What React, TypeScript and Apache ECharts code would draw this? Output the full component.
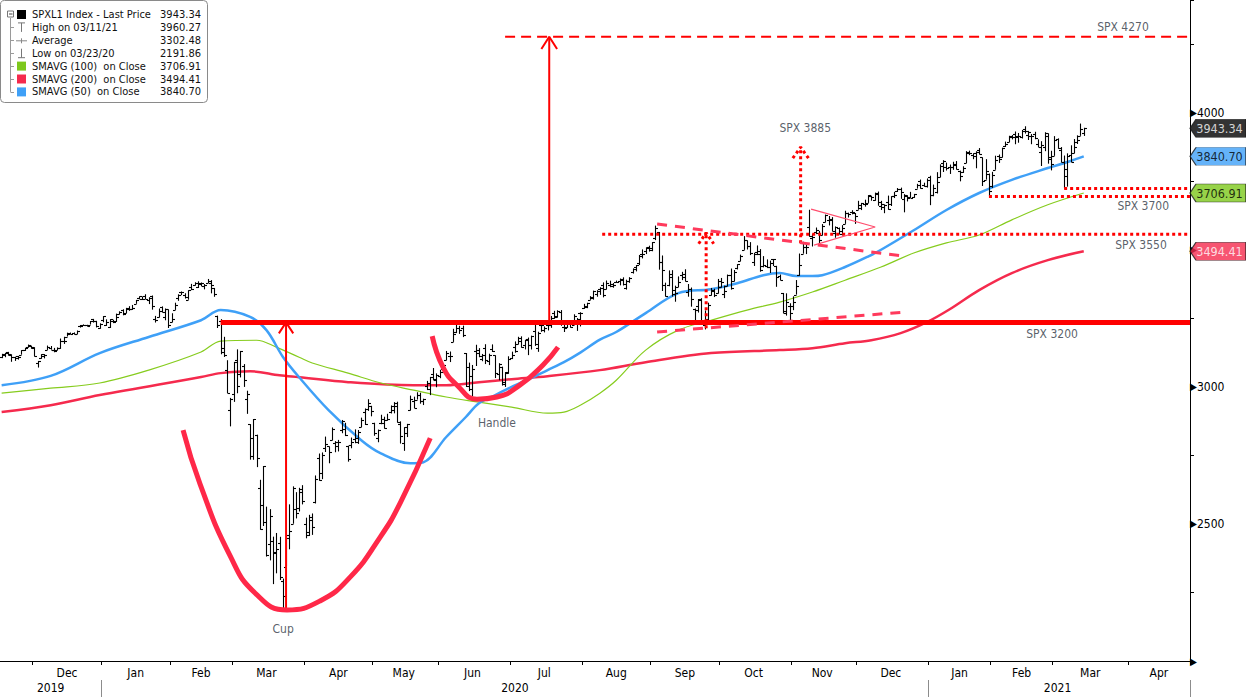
import React, { useEffect, useRef } from 'react';
import * as echarts from 'echarts';

const FONT = '"DejaVu Sans Condensed", "DejaVu Sans", sans-serif';
const MONTHS = ['Jan', 'Feb', 'Mar', 'Apr', 'May', 'Jun', 'Jul', 'Aug', 'Sep', 'Oct', 'Nov', 'Dec'];

// Calendar of the axis: trading days from the first bar, including empty future days
const FIRST_DAY = '2019-11-15';
const AXIS_DAYS = 364;
const HOLIDAYS = [
  '2019-11-28', '2019-12-25', '2020-01-01', '2020-01-20', '2020-02-17', '2020-04-10', '2020-05-25',
  '2020-07-03', '2020-09-07', '2020-11-26', '2020-12-25', '2021-01-01', '2021-01-18', '2021-02-15', '2021-04-02',
];

// Daily bars [open, high, low, close]
const nov2019 = [
  [3107.9, 3120.5, 3104.6, 3120.5], [3117.9, 3124.2, 3108.1, 3122.0], [3127.5, 3127.6, 3113.5, 3120.2],
  [3114.7, 3118.9, 3091.4, 3108.5], [3108.5, 3110.1, 3094.6, 3103.5], [3111.4, 3112.9, 3099.3, 3110.3],
  [3117.4, 3133.8, 3117.4, 3133.6], [3134.9, 3142.7, 3131.0, 3140.5], [3145.5, 3154.3, 3143.4, 3153.6],
  [3147.2, 3150.3, 3139.3, 3141.0],
];
const dec2019 = [
  [3143.9, 3144.3, 3110.8, 3113.9], [3087.4, 3094.6, 3070.3, 3093.2], [3103.5, 3119.4, 3102.5, 3112.8],
  [3119.2, 3119.4, 3103.8, 3117.4], [3134.6, 3150.6, 3134.6, 3145.9], [3141.9, 3148.9, 3135.5, 3136.0],
  [3135.4, 3142.1, 3126.1, 3132.5], [3135.8, 3144.0, 3133.2, 3141.6], [3141.2, 3176.3, 3138.5, 3168.6],
  [3166.7, 3182.7, 3156.5, 3168.8], [3183.6, 3197.7, 3183.6, 3191.5], [3195.4, 3198.2, 3191.0, 3192.5],
  [3195.2, 3198.5, 3191.1, 3191.1], [3192.3, 3205.5, 3192.3, 3205.4], [3223.3, 3225.7, 3216.0, 3221.2],
  [3226.1, 3227.8, 3222.3, 3224.0], [3225.5, 3226.4, 3220.5, 3223.4], [3227.2, 3240.1, 3227.2, 3239.9],
  [3247.2, 3247.9, 3234.4, 3240.0], [3240.1, 3240.9, 3216.6, 3221.3], [3215.2, 3231.7, 3212.0, 3230.8],
];
const jan2020 = [
  [3244.7, 3258.1, 3235.5, 3257.9], [3226.4, 3246.2, 3222.3, 3234.9], [3217.6, 3246.8, 3214.6, 3246.3],
  [3241.9, 3244.9, 3232.4, 3237.2], [3238.6, 3267.1, 3236.7, 3253.1], [3266.0, 3275.6, 3263.7, 3274.7],
  [3281.0, 3283.0, 3260.9, 3265.4], [3271.1, 3288.1, 3268.4, 3288.1], [3285.4, 3294.2, 3277.2, 3283.2],
  [3282.3, 3298.7, 3280.7, 3289.3], [3303.0, 3317.1, 3302.8, 3316.8], [3323.7, 3329.9, 3318.9, 3329.6],
  [3321.0, 3329.8, 3316.6, 3320.8], [3330.0, 3337.8, 3320.0, 3321.8], [3315.8, 3326.9, 3301.9, 3325.5],
  [3333.1, 3333.2, 3281.5, 3295.5], [3247.2, 3258.8, 3234.5, 3243.6], [3255.4, 3285.8, 3253.2, 3276.2],
  [3289.5, 3293.5, 3271.9, 3273.4], [3256.5, 3285.9, 3242.8, 3283.7], [3282.3, 3282.3, 3214.7, 3225.5],
];
const feb2020 = [
  [3235.7, 3268.4, 3235.7, 3248.9], [3280.6, 3306.9, 3280.6, 3297.6], [3324.9, 3337.6, 3313.8, 3334.7],
  [3344.9, 3348.0, 3334.4, 3345.8], [3335.5, 3341.4, 3322.1, 3327.7], [3318.3, 3352.3, 3317.8, 3352.1],
  [3365.9, 3375.6, 3352.7, 3357.8], [3370.5, 3381.5, 3369.7, 3379.5], [3365.9, 3385.1, 3360.5, 3373.9],
  [3378.1, 3380.7, 3366.2, 3380.2], [3369.0, 3375.0, 3355.6, 3370.3], [3380.4, 3393.5, 3378.8, 3386.2],
  [3380.5, 3389.2, 3341.0, 3373.2], [3360.5, 3360.8, 3328.5, 3337.8], [3257.6, 3259.8, 3214.7, 3225.9],
  [3238.9, 3247.0, 3118.8, 3128.2], [3139.9, 3182.5, 3109.0, 3116.4], [3062.5, 3097.1, 2977.4, 2978.8],
  [2916.9, 2959.7, 2855.8, 2954.2],
];
const mar2020 = [
  [2974.3, 3091.0, 2945.2, 3090.2], [3096.5, 3136.7, 2976.6, 3003.4], [3045.8, 3131.0, 3034.4, 3130.1],
  [3075.7, 3083.0, 2999.8, 3023.9], [2954.2, 2985.9, 2901.5, 2972.4], [2863.9, 2863.9, 2734.4, 2746.6],
  [2813.5, 2882.6, 2734.0, 2882.2], [2825.6, 2825.6, 2707.2, 2741.4], [2630.9, 2661.0, 2478.9, 2480.6],
  [2570.0, 2711.3, 2492.4, 2711.0], [2508.6, 2563.0, 2380.9, 2386.1], [2425.7, 2553.9, 2367.0, 2529.2],
  [2436.5, 2453.6, 2280.5, 2398.1], [2393.5, 2467.0, 2319.8, 2409.4], [2431.9, 2453.0, 2295.6, 2304.9],
  [2290.7, 2300.7, 2191.9, 2237.4], [2344.4, 2449.7, 2344.4, 2447.3], [2457.8, 2571.4, 2407.5, 2475.6],
  [2501.3, 2637.0, 2500.7, 2630.1], [2555.9, 2615.9, 2520.0, 2541.5], [2559.0, 2631.8, 2545.3, 2626.7],
  [2614.7, 2641.4, 2571.2, 2584.6],
];
const apr2020 = [
  [2498.1, 2522.8, 2447.5, 2470.5], [2458.5, 2533.2, 2455.8, 2526.9], [2514.9, 2538.2, 2460.0, 2488.7],
  [2578.3, 2676.9, 2574.6, 2663.7], [2738.7, 2756.9, 2657.7, 2659.4], [2685.0, 2760.8, 2663.3, 2750.0],
  [2777.0, 2818.6, 2762.4, 2789.8], [2782.5, 2782.5, 2721.2, 2761.6], [2805.1, 2851.9, 2805.1, 2846.1],
  [2795.6, 2801.9, 2761.5, 2783.4], [2799.3, 2806.5, 2764.3, 2799.6], [2842.4, 2879.2, 2830.9, 2874.6],
  [2845.6, 2869.0, 2820.4, 2823.2], [2784.8, 2785.5, 2727.1, 2736.6], [2787.9, 2815.1, 2776.0, 2799.3],
  [2810.4, 2844.9, 2794.3, 2797.8], [2812.6, 2842.7, 2791.8, 2836.7], [2854.7, 2887.7, 2852.9, 2878.5],
  [2910.0, 2921.2, 2860.7, 2863.4], [2918.5, 2954.9, 2912.2, 2939.5], [2930.9, 2930.9, 2892.5, 2912.4],
];
const may2020 = [
  [2869.1, 2869.1, 2821.6, 2830.7], [2815.0, 2844.2, 2797.9, 2842.7], [2868.9, 2898.2, 2863.6, 2868.4],
  [2883.1, 2891.1, 2847.7, 2848.4], [2878.3, 2901.9, 2876.5, 2881.2], [2908.8, 2932.2, 2902.9, 2929.8],
  [2915.5, 2944.3, 2903.4, 2930.3], [2939.5, 2945.8, 2869.6, 2870.1], [2865.9, 2874.1, 2793.2, 2820.0],
  [2794.5, 2852.8, 2766.6, 2852.5], [2830.0, 2865.0, 2816.8, 2863.7], [2913.9, 2968.1, 2913.9, 2953.9],
  [2948.6, 2964.2, 2922.4, 2922.9], [2953.6, 2980.3, 2953.6, 2971.6], [2970.0, 2978.5, 2938.6, 2949.5],
  [2948.1, 2956.8, 2933.6, 2955.5], [3004.1, 3021.7, 2988.2, 2991.8], [3015.7, 3036.3, 2969.8, 3036.1],
  [3046.6, 3068.7, 3023.4, 3029.7], [3025.2, 3049.2, 2998.6, 3044.3],
];
const jun2020 = [
  [3038.8, 3062.2, 3031.5, 3055.7], [3064.2, 3081.1, 3051.6, 3080.8], [3098.9, 3130.9, 3097.1, 3122.9],
  [3111.6, 3128.9, 3090.4, 3112.4], [3163.8, 3211.7, 3163.8, 3193.9], [3199.9, 3233.1, 3196.0, 3232.4],
  [3213.3, 3222.7, 3193.1, 3207.2], [3213.4, 3223.3, 3181.5, 3190.1], [3123.5, 3123.5, 2999.5, 3002.1],
  [3071.0, 3088.4, 2984.5, 3041.3], [2993.8, 3079.8, 2965.7, 3066.6], [3131.0, 3153.5, 3076.1, 3124.7],
  [3136.1, 3141.2, 3108.0, 3113.5], [3101.6, 3120.0, 3093.5, 3115.3], [3140.3, 3155.5, 3083.1, 3097.7],
  [3094.4, 3120.9, 3079.4, 3117.9], [3138.7, 3154.9, 3127.1, 3131.3], [3114.4, 3115.0, 3032.1, 3050.3],
  [3046.6, 3086.3, 3024.0, 3083.8], [3073.2, 3073.7, 3004.6, 3009.1], [3018.6, 3053.9, 2999.7, 3053.2],
  [3050.2, 3111.5, 3047.8, 3100.3],
];
const jul2020 = [
  [3105.9, 3128.4, 3101.2, 3115.9], [3143.6, 3165.8, 3124.5, 3130.0], [3155.3, 3182.6, 3155.3, 3179.7],
  [3166.4, 3184.2, 3142.9, 3145.3], [3153.1, 3171.8, 3136.5, 3169.9], [3176.2, 3179.8, 3115.7, 3152.1],
  [3152.5, 3186.8, 3136.2, 3185.0], [3205.1, 3235.3, 3149.4, 3155.2], [3141.1, 3201.0, 3127.7, 3197.5],
  [3226.0, 3238.3, 3200.8, 3226.6], [3208.4, 3220.4, 3198.6, 3215.6], [3224.2, 3233.5, 3205.7, 3224.7],
  [3224.3, 3258.6, 3215.2, 3251.8], [3268.5, 3277.3, 3247.8, 3257.3], [3254.9, 3279.3, 3253.1, 3276.0],
  [3271.6, 3280.0, 3222.7, 3235.7], [3218.6, 3227.3, 3200.0, 3215.6], [3219.8, 3241.4, 3214.3, 3239.4],
  [3234.3, 3243.7, 3216.2, 3218.4], [3227.2, 3264.7, 3227.2, 3258.4], [3231.8, 3250.9, 3204.1, 3246.2],
  [3270.5, 3272.2, 3220.3, 3271.1],
];
const aug2020 = [
  [3288.3, 3302.7, 3284.5, 3294.6], [3289.9, 3306.8, 3286.9, 3306.5], [3317.4, 3330.8, 3317.4, 3327.8],
  [3323.2, 3351.0, 3318.1, 3349.2], [3340.1, 3352.5, 3328.7, 3351.3], [3356.0, 3363.3, 3335.4, 3360.5],
  [3370.3, 3381.0, 3326.4, 3333.7], [3355.5, 3387.9, 3355.5, 3380.4], [3373.0, 3387.2, 3363.4, 3373.4],
  [3368.7, 3378.5, 3361.6, 3372.9], [3380.9, 3387.6, 3379.2, 3382.0], [3387.0, 3395.1, 3370.2, 3389.8],
  [3392.5, 3399.5, 3369.7, 3374.9], [3360.5, 3390.8, 3354.7, 3385.5], [3386.0, 3400.0, 3379.3, 3397.2],
  [3418.1, 3432.1, 3413.1, 3431.3], [3436.0, 3444.2, 3421.1, 3443.6], [3450.0, 3481.1, 3444.2, 3478.7],
  [3485.1, 3501.4, 3468.4, 3484.6], [3494.7, 3509.2, 3484.3, 3508.0], [3509.7, 3514.8, 3493.3, 3500.3],
];
const sep2020 = [
  [3507.4, 3528.0, 3494.6, 3526.7], [3543.8, 3588.1, 3535.2, 3580.8], [3564.7, 3564.9, 3427.4, 3455.1],
  [3453.6, 3479.2, 3349.6, 3427.0], [3371.9, 3380.0, 3329.3, 3331.8], [3369.8, 3424.8, 3366.8, 3399.0],
  [3412.6, 3425.6, 3329.3, 3339.2], [3352.7, 3369.0, 3310.5, 3341.0], [3363.6, 3402.9, 3363.6, 3383.5],
  [3407.7, 3419.5, 3389.3, 3401.2], [3411.2, 3428.9, 3384.5, 3385.5], [3346.9, 3375.2, 3328.8, 3357.0],
  [3357.4, 3362.3, 3292.4, 3319.5], [3285.6, 3285.6, 3229.1, 3281.1], [3295.8, 3320.3, 3271.0, 3315.6],
  [3320.1, 3323.4, 3232.6, 3236.9], [3226.1, 3278.7, 3209.5, 3246.6], [3236.7, 3306.9, 3228.4, 3298.5],
  [3333.9, 3360.7, 3332.9, 3351.6], [3350.9, 3357.9, 3327.5, 3335.5], [3341.2, 3393.6, 3340.5, 3363.0],
];
const oct2020 = [
  [3385.9, 3397.2, 3361.4, 3380.8], [3338.9, 3369.1, 3323.7, 3348.4], [3367.3, 3409.6, 3367.3, 3408.6],
  [3408.7, 3431.6, 3354.5, 3361.0], [3384.6, 3426.3, 3384.6, 3419.4], [3434.3, 3447.3, 3428.2, 3446.8],
  [3459.7, 3482.3, 3458.1, 3477.1], [3500.0, 3549.9, 3499.6, 3534.2], [3534.0, 3534.0, 3500.9, 3511.9],
  [3515.5, 3527.9, 3480.6, 3488.7], [3453.7, 3489.1, 3440.9, 3483.3], [3493.5, 3515.8, 3480.5, 3483.8],
  [3493.7, 3502.4, 3419.9, 3426.9], [3439.4, 3476.9, 3435.7, 3443.1], [3439.9, 3464.9, 3433.1, 3435.6],
  [3438.5, 3460.5, 3415.3, 3453.5], [3464.9, 3466.5, 3440.5, 3465.4], [3441.4, 3441.4, 3364.9, 3401.0],
  [3403.2, 3409.5, 3388.7, 3390.7], [3342.5, 3342.5, 3268.9, 3271.0], [3277.2, 3341.1, 3259.8, 3310.1],
  [3293.6, 3304.9, 3233.9, 3270.0],
];
const nov2020 = [
  [3296.2, 3330.1, 3279.7, 3310.2], [3336.3, 3389.5, 3336.3, 3369.2], [3406.5, 3486.3, 3405.2, 3443.4],
  [3485.7, 3529.1, 3485.7, 3510.5], [3508.3, 3521.6, 3484.3, 3509.4], [3583.0, 3646.0, 3547.5, 3550.5],
  [3543.3, 3557.2, 3511.9, 3545.5], [3563.2, 3581.2, 3557.0, 3572.7], [3562.7, 3569.0, 3518.6, 3537.0],
  [3552.6, 3593.7, 3552.6, 3585.2], [3600.2, 3628.5, 3600.2, 3626.9], [3610.3, 3623.1, 3588.7, 3609.5],
  [3612.1, 3619.1, 3567.3, 3567.8], [3559.4, 3585.2, 3543.8, 3581.9], [3579.3, 3581.2, 3556.9, 3557.5],
  [3566.8, 3589.8, 3552.8, 3577.6], [3594.5, 3642.3, 3594.5, 3635.4], [3635.5, 3635.5, 3617.8, 3629.7],
  [3638.6, 3644.3, 3629.3, 3638.4], [3634.2, 3634.2, 3594.4, 3621.6],
];
const dec2020 = [
  [3645.9, 3678.5, 3645.9, 3662.5], [3653.8, 3671.0, 3644.8, 3669.0], [3668.3, 3682.7, 3657.2, 3666.7],
  [3670.9, 3699.2, 3670.9, 3699.1], [3694.7, 3697.4, 3678.9, 3692.0], [3683.1, 3708.5, 3678.8, 3702.3],
  [3706.0, 3712.4, 3660.5, 3672.8], [3659.1, 3678.5, 3645.2, 3668.1], [3656.1, 3665.9, 3633.4, 3663.5],
  [3675.3, 3697.6, 3645.8, 3647.5], [3666.4, 3695.3, 3659.6, 3694.6], [3696.3, 3711.3, 3688.6, 3701.2],
  [3713.7, 3725.1, 3710.9, 3722.5], [3722.4, 3726.7, 3685.8, 3709.4], [3684.3, 3702.9, 3636.5, 3694.9],
  [3698.1, 3698.3, 3676.2, 3687.3], [3693.4, 3711.2, 3689.3, 3690.0], [3694.0, 3703.8, 3689.3, 3703.1],
  [3723.0, 3740.5, 3723.0, 3735.4], [3750.0, 3756.1, 3723.3, 3727.0], [3736.2, 3744.6, 3730.2, 3732.0],
  [3733.3, 3760.2, 3726.9, 3756.1],
];
const jan2021 = [
  [3764.6, 3770.0, 3662.7, 3700.7], [3698.0, 3737.8, 3695.1, 3726.9], [3712.2, 3783.0, 3705.3, 3748.1],
  [3764.7, 3811.6, 3764.7, 3803.8], [3815.1, 3826.7, 3783.6, 3824.7], [3803.1, 3817.9, 3789.0, 3799.6],
  [3801.6, 3810.8, 3776.5, 3801.2], [3802.2, 3821.0, 3791.5, 3809.8], [3814.0, 3823.6, 3792.9, 3795.5],
  [3788.7, 3788.7, 3749.6, 3768.3], [3781.9, 3804.5, 3780.4, 3798.9], [3816.2, 3859.8, 3816.2, 3851.9],
  [3857.5, 3861.5, 3845.1, 3853.1], [3844.2, 3852.3, 3830.4, 3841.5], [3851.7, 3859.2, 3797.2, 3855.4],
  [3863.0, 3870.9, 3847.8, 3849.6], [3836.8, 3836.8, 3732.5, 3750.8], [3755.8, 3830.5, 3755.8, 3787.4],
  [3778.1, 3778.1, 3694.1, 3714.2],
];
const feb2021 = [
  [3731.2, 3784.3, 3725.6, 3773.9], [3791.8, 3843.1, 3791.8, 3826.3], [3840.3, 3847.5, 3816.7, 3830.2],
  [3836.7, 3872.4, 3836.7, 3871.7], [3878.3, 3894.6, 3874.9, 3886.8], [3892.6, 3915.8, 3892.6, 3915.6],
  [3910.5, 3918.4, 3902.6, 3911.2], [3920.8, 3931.5, 3884.9, 3909.9], [3916.4, 3926.0, 3890.4, 3916.4],
  [3911.7, 3937.2, 3905.8, 3934.8], [3939.6, 3950.4, 3923.9, 3932.6], [3918.5, 3933.6, 3900.4, 3931.3],
  [3915.9, 3922.0, 3885.0, 3914.0], [3921.2, 3930.4, 3903.1, 3906.7], [3885.6, 3902.9, 3874.7, 3876.5],
  [3857.1, 3896.0, 3805.6, 3881.4], [3873.7, 3928.7, 3859.6, 3925.4], [3915.8, 3925.0, 3814.0, 3829.3],
  [3839.7, 3861.1, 3789.5, 3811.2],
];
const mar2021 = [
  [3842.5, 3914.5, 3842.5, 3901.8], [3903.6, 3906.4, 3868.6, 3870.3], [3864.0, 3874.5, 3818.9, 3819.7],
  [3818.5, 3843.7, 3723.3, 3768.5], [3793.6, 3851.7, 3730.2, 3841.9], [3844.4, 3881.1, 3819.3, 3821.4],
  [3851.9, 3903.8, 3851.9, 3875.4], [3892.0, 3917.4, 3885.7, 3898.8], [3915.5, 3960.3, 3915.5, 3939.3],
  [3924.5, 3945.0, 3915.2, 3943.34],
];

// Moving averages: [trading-day index, value]
const sma50 = [
  [0, 3006], [15, 3040], [30, 3123], [45, 3182], [61, 3243], [67, 3280], [76, 3255], [81, 3207], [86, 3110],
  [91, 3035], [100, 2915], [110, 2805], [116, 2757], [125, 2721], [129, 2725], [136, 2817], [142, 2890],
  [146, 2940], [151, 2970], [156, 3000], [162, 3032], [167, 3061], [172, 3090], [177, 3125], [183, 3172],
  [188, 3200], [197, 3269], [207, 3342], [217, 3356], [225, 3378], [233, 3407], [238, 3415], [243, 3404],
  [248, 3404], [251, 3407], [258, 3437], [265, 3475], [269, 3500], [279, 3571], [289, 3645], [299, 3707],
  [309, 3755], [320, 3798], [326, 3820], [331, 3840.7],
];
const sma100 = [
  [0, 2977], [15, 2995], [30, 3014], [45, 3061], [61, 3127], [67, 3167], [78, 3170], [84, 3145], [91, 3108],
  [95, 3087], [106, 3050], [116, 3014], [126, 2988], [136, 2963], [146, 2944], [156, 2926], [167, 2904],
  [172, 2908], [177, 2933], [183, 2977], [188, 3024], [197, 3134], [207, 3207], [217, 3243], [228, 3280],
  [238, 3309], [248, 3346], [258, 3389], [269, 3437], [279, 3488], [289, 3525], [299, 3554], [309, 3609],
  [320, 3664], [331, 3706.9],
];
const sma200 = [
  [0, 2908], [15, 2933], [30, 2970], [61, 3036], [67, 3050], [76, 3057], [85, 3042], [91, 3035], [106, 3017],
  [126, 3006], [136, 3006], [146, 3017], [156, 3028], [167, 3039], [183, 3061], [197, 3090], [217, 3123],
  [238, 3134], [248, 3141], [258, 3159], [266, 3170], [275, 3196], [283, 3236], [290, 3283], [299, 3353],
  [309, 3415], [320, 3462], [331, 3494.4],
];

// Annotation levels and pattern outlines (trading-day index, value)
const breakout = [[67, 3235], [363.5, 3235]];
const target = [[154, 4277], [363.5, 4277]];
const level3550 = [[183.7, 3557], [363.5, 3557]];
const level3700a = [[302, 3694], [363.5, 3694]];
const level3700b = [[325, 3723], [363.5, 3723]];
const targetArrow = [[167.5, 3235], [167.5, 4277]];
const targetHead = [[165.1, 4232], [167.5, 4277], [169.9, 4232]];
const cupArrow = [[87, 2190], [87, 3235]];
const cupHead = [[84.8, 3195], [87, 3235], [89.2, 3195]];
const dotArrow1 = [[215.5, 3214], [215.5, 3562]];
const dotHead1 = [[213.2, 3522], [215.5, 3562], [217.8, 3522]];
const dotArrow2 = [[244.4, 3524], [244.4, 3874]];
const dotHead2 = [[242.0, 3834], [244.4, 3874], [246.8, 3834]];
const upperTrend = [[200.5, 3594], [275.7, 3477]];
const lowerTrend = [[200.5, 3200], [276.4, 3273]];
const pennant = [[247.6, 3648], [267.2, 3583], [248.5, 3517]];
const cup = [
  [55.5, 2842], [60.7, 2645], [69.9, 2383], [77.5, 2248], [87.3, 2186], [97.4, 2219], [106.6, 2306],
  [115.8, 2452], [121.9, 2576], [131.1, 2813],
];
const handle = [
  [131.7, 3185], [135.0, 3072], [139.3, 3006], [145.4, 2955], [151.5, 2963], [158.6, 3007], [165.6, 3080],
  [170.2, 3145],
];
const noteLabels = [
  { name: 'SPX 4270', value: [343, 4313] },
  { name: 'SPX 3700', value: [349.2, 3660] },
  { name: 'SPX 3550', value: [348.5, 3517] },
  { name: 'SPX 3200', value: [321.3, 3193] },
  { name: 'SPX 3885', value: [245.8, 3944] },
  { name: 'Cup', value: [86.1, 2116] },
  { name: 'Handle', value: [151.5, 2868] },
];

const legendRows = [
  { label: 'SPXL1 Index - Last Price', value: '3943.34', icon: 'box', color: '#000000' },
  { label: 'High on 03/11/21', value: '3960.27', icon: 'high' },
  { label: 'Average', value: '3302.48', icon: 'avg' },
  { label: 'Low on 03/23/20', value: '2191.86', icon: 'low' },
  { label: 'SMAVG (100)  on Close', value: '3706.91', icon: 'box', color: '#7dc81c' },
  { label: 'SMAVG (200)  on Close', value: '3494.41', icon: 'box', color: '#f52a4d' },
  { label: 'SMAVG (50)  on Close', value: '3840.70', icon: 'box', color: '#3fa0f7' },
];
const priceTags = [
  { value: 3943.34, text: '3943.34', bg: '#000000', fg: '#ffffff' },
  { value: 3840.7, text: '3840.70', bg: '#3fa0f7', fg: '#000000' },
  { value: 3706.91, text: '3706.91', bg: '#7dc81c', fg: '#000000' },
  { value: 3494.41, text: '3494.41', bg: '#f52a4d', fg: '#ffffff' },
];
const yLabelValues = [2500, 3000, 4000];

function tradingDays(start: string, count: number, holidays: string[]) {
  const out: string[] = [];
  const d = new Date(start + 'T12:00:00Z');
  while (out.length < count) {
    const wd = d.getUTCDay();
    const s = d.toISOString().slice(0, 10);
    if (wd !== 0 && wd !== 6 && holidays.indexOf(s) < 0) out.push(s);
    d.setUTCDate(d.getUTCDate() + 1);
  }
  return out;
}

function groupBy(dates: string[], len: number) {
  const groups: Record<string, number[]> = {};
  const order: string[] = [];
  dates.forEach((d, i) => {
    const k = d.slice(0, len);
    if (!groups[k]) { groups[k] = []; order.push(k); }
    groups[k].push(i);
  });
  return order.map((k) => groups[k]);
}

function buildLegend() {
  const els: any[] = [];
  const rowY = (i: number) => 14.5 + i * 12.9;
  els.push({ type: 'rect', shape: { x: 0.5, y: 0.5, width: 207, height: 102, r: 4 }, style: { fill: '#fff', stroke: '#8a8a8a', lineWidth: 1 } });
  els.push({ type: 'line', shape: { x1: 10.5, y1: 18, x2: 10.5, y2: rowY(6) }, style: { stroke: '#9a9a9a', lineWidth: 1 } });
  els.push({ type: 'rect', shape: { x: 7.5, y: rowY(0) - 3.5, width: 6, height: 6 }, style: { fill: '#fff', stroke: '#777', lineWidth: 1 } });
  els.push({ type: 'line', shape: { x1: 9, y1: rowY(0) - 0.5, x2: 12.5, y2: rowY(0) - 0.5 }, style: { stroke: '#444', lineWidth: 1 } });
  legendRows.forEach((r, i) => {
    const y = rowY(i);
    if (i > 0) els.push({ type: 'line', shape: { x1: 10.5, y1: Math.round(y) + 0.5, x2: 14, y2: Math.round(y) + 0.5 }, style: { stroke: '#9a9a9a', lineWidth: 1 } });
    if (r.icon === 'box') {
      els.push({ type: 'rect', shape: { x: 17, y: y - 4.5, width: 9, height: 9 }, style: { fill: r.color } });
    } else if (r.icon === 'high') {
      els.push({ type: 'line', shape: { x1: 18, y1: y - 4.5, x2: 25, y2: y - 4.5 }, style: { stroke: '#777', lineWidth: 1 } });
      els.push({ type: 'line', shape: { x1: 21.5, y1: y - 4.5, x2: 21.5, y2: y + 4.5 }, style: { stroke: '#777', lineWidth: 1 } });
    } else if (r.icon === 'avg') {
      els.push({ type: 'line', shape: { x1: 16, y1: y + 0.5, x2: 27, y2: y + 0.5 }, style: { stroke: '#888', lineWidth: 1 } });
      els.push({ type: 'line', shape: { x1: 21.5, y1: y - 2, x2: 21.5, y2: y + 3 }, style: { stroke: '#888', lineWidth: 1 } });
    } else if (r.icon === 'low') {
      els.push({ type: 'line', shape: { x1: 21.5, y1: y - 4.5, x2: 21.5, y2: y + 4.5 }, style: { stroke: '#777', lineWidth: 1 } });
      els.push({ type: 'line', shape: { x1: 18, y1: y + 4.5, x2: 25, y2: y + 4.5 }, style: { stroke: '#777', lineWidth: 1 } });
    }
    els.push({ type: 'text', x: 32, y, style: { text: r.label, fill: '#111', fontSize: 11, fontFamily: FONT, align: 'left', verticalAlign: 'middle' } });
    els.push({ type: 'text', x: 201, y, style: { text: r.value, fill: '#111', fontSize: 11, fontFamily: FONT, align: 'right', verticalAlign: 'middle' } });
  });
  return { type: 'group', left: 0, top: 0, z: 100, children: els };
}

export default function App() {
  const ref = useRef<HTMLDivElement>(null);

  useEffect(() => {
    if (!ref.current) return;
    const chart = echarts.init(ref.current, null, { renderer: 'svg' });

    const dates = tradingDays(FIRST_DAY, AXIS_DAYS, HOLIDAYS);
    const bars = [
      ...nov2019, ...dec2019, ...jan2020, ...feb2020, ...mar2020, ...apr2020, ...may2020, ...jun2020,
      ...jul2020, ...aug2020, ...sep2020, ...oct2020, ...nov2020, ...dec2020, ...jan2021, ...feb2021, ...mar2021,
    ];
    const barData = bars.map((b, i) => [i, b[0], b[1], b[2], b[3]]);

    const monthStart = new Set<number>();
    const monthMid = new Set<number>();
    groupBy(dates, 7).forEach((g) => {
      if (g[0] !== 0) monthStart.add(g[0]);
      if (g.length >= 15) monthMid.add(g[Math.floor((g.length - 1) / 2)]);
    });
    const yearStart = new Set<number>();
    const yearMid = new Set<number>();
    groupBy(dates, 4).forEach((g) => {
      if (g[0] !== 0) yearStart.add(g[0]);
      yearMid.add(g[Math.floor((g.length - 1) / 2)]);
    });

    const N = dates.length;
    const seg = (data: number[][], color: string, width: number, type: any = 'solid', extra: any = {}) => ({
      type: 'line', xAxisIndex: 2, data, showSymbol: false, symbol: 'none', silent: true, z: 4,
      lineStyle: { color, width, type, cap: 'butt' }, ...extra,
    });
    const maLine = (data: number[][], color: string, width: number) => ({
      type: 'line', xAxisIndex: 2, data, showSymbol: false, symbol: 'none', silent: true, smooth: 0.35, z: 2,
      lineStyle: { color, width },
    });

    const option: any = {
      animation: false,
      backgroundColor: '#ffffff',
      grid: { left: 0, right: 56, top: 0, bottom: 36 },
      xAxis: [
        {
          type: 'category', data: dates, boundaryGap: true,
          axisLine: { show: true, onZero: false, lineStyle: { color: '#000', width: 1 } },
          axisTick: { show: true, interval: (i: number) => monthStart.has(i), length: 4, lineStyle: { color: '#000' } },
          axisLabel: {
            interval: (i: number) => monthMid.has(i),
            formatter: (v: string) => MONTHS[parseInt(v.slice(5, 7), 10) - 1],
            margin: 6, color: '#000', fontSize: 12, fontFamily: FONT,
          },
          splitLine: { show: false },
        },
        {
          type: 'category', data: dates, boundaryGap: true, position: 'bottom', offset: 19,
          axisLine: { show: false, onZero: false },
          axisTick: { show: true, interval: (i: number) => yearStart.has(i), length: 17, lineStyle: { color: '#8c8c8c' } },
          axisLabel: {
            interval: (i: number) => yearMid.has(i),
            formatter: (v: string) => v.slice(0, 4),
            margin: 2, color: '#000', fontSize: 12, fontFamily: FONT,
          },
          splitLine: { show: false },
        },
        { type: 'value', min: -0.5, max: N - 0.5, show: false, axisLine: { onZero: false } },
      ],
      yAxis: {
        type: 'value', position: 'right', min: 2000, max: 4411, interval: 250,
        axisLine: { show: true, onZero: false, lineStyle: { color: '#000', width: 1 } },
        axisTick: { show: true, length: 4, lineStyle: { color: '#000' } },
        splitLine: { show: false },
        axisLabel: {
          margin: 0, color: '#000', fontSize: 12, fontFamily: FONT,
          formatter: (v: number) => {
            if (v % 500 !== 0) return '';
            return yLabelValues.indexOf(v) >= 0 ? '{t|\u25B6}' + v : '{t|\u25B6}';
          },
          rich: { t: { fontSize: 10, color: '#000', fontFamily: FONT } },
        },
      },
      graphic: [buildLegend()],
      series: [
        maLine(sma200, '#f52a4d', 2.5),
        maLine(sma100, '#86cc1e', 1.2),
        maLine(sma50, '#3fa0f7', 2.5),
        {
          type: 'custom', xAxisIndex: 0, data: barData, z: 3, silent: true,
          encode: { x: 0, y: [1, 2, 3, 4] },
          renderItem: (params: any, api: any) => {
            const i = api.value(0);
            const o = api.coord([i, api.value(1)]);
            const h = api.coord([i, api.value(2)]);
            const l = api.coord([i, api.value(3)]);
            const c = api.coord([i, api.value(4)]);
            const x = Math.round(h[0]) + 0.5;
            const st = { stroke: '#000', lineWidth: 1.1 };
            const oy = Math.round(o[1]) + 0.5;
            const cy = Math.round(c[1]) + 0.5;
            return {
              type: 'group',
              children: [
                { type: 'line', shape: { x1: x, y1: h[1], x2: x, y2: l[1] }, style: st },
                { type: 'line', shape: { x1: x - 2.5, y1: oy, x2: x, y2: oy }, style: st },
                { type: 'line', shape: { x1: x, y1: cy, x2: x + 2.5, y2: cy }, style: st },
              ],
            };
          },
        },
        seg(breakout, '#ff0000', 5),
        seg(target, '#ff0000', 2, [10, 6]),
        seg(level3550, '#ff0000', 3, [3, 3]),
        seg(level3700a, '#ff0000', 3, [3, 3]),
        seg(level3700b, '#ff0000', 3, [3, 3]),
        seg(targetArrow, '#ff0000', 2),
        seg(targetHead, '#ff0000', 2),
        seg(cupArrow, '#ff0000', 2),
        seg(cupHead, '#ff0000', 2),
        seg(dotArrow1, '#ff0000', 3, [3, 3]),
        seg(dotHead1, '#ff0000', 3, [3, 3]),
        seg(dotArrow2, '#ff0000', 3, [3, 3]),
        seg(dotHead2, '#ff0000', 3, [3, 3]),
        seg(upperTrend, '#ff3a5c', 3, [10, 8]),
        seg(lowerTrend, '#ff3a5c', 3, [10, 8]),
        seg(pennant, '#ff4d6d', 1.2),
        seg(cup, '#ff2848', 5, 'solid', { smooth: 0.5 }),
        seg(handle, '#ff2848', 5, 'solid', { smooth: 0.5 }),
        {
          type: 'scatter', xAxisIndex: 2, data: noteLabels, symbolSize: 1, silent: true, z: 6,
          itemStyle: { color: 'rgba(0,0,0,0)' },
          label: { show: true, position: 'inside', formatter: (p: any) => p.name, color: '#2e3643', fontSize: 12, fontFamily: FONT },
        },
        {
          type: 'scatter', xAxisIndex: 2, clip: false, silent: true, z: 7,
          data: priceTags.map((t) => ({
            value: [N - 0.5, t.value],
            itemStyle: { color: t.bg, borderColor: '#1a1a1a', borderWidth: 0.8 },
            label: { color: t.fg, formatter: t.text },
          })),
          symbol: 'path://M0,9 L6,0 L56,0 L56,18 L6,18 Z',
          symbolSize: [56, 18],
          symbolKeepAspect: false,
          symbolOffset: [28, 0],
          label: { show: true, position: 'inside', offset: [1.5, 0], fontSize: 12.5, fontFamily: FONT },
        },
      ],
    };
    chart.setOption(option);
    return () => chart.dispose();
  }, []);

  return <div ref={ref} style={{ position: 'fixed', left: 0, top: 0, width: 1246, height: 697 }} />;
}
